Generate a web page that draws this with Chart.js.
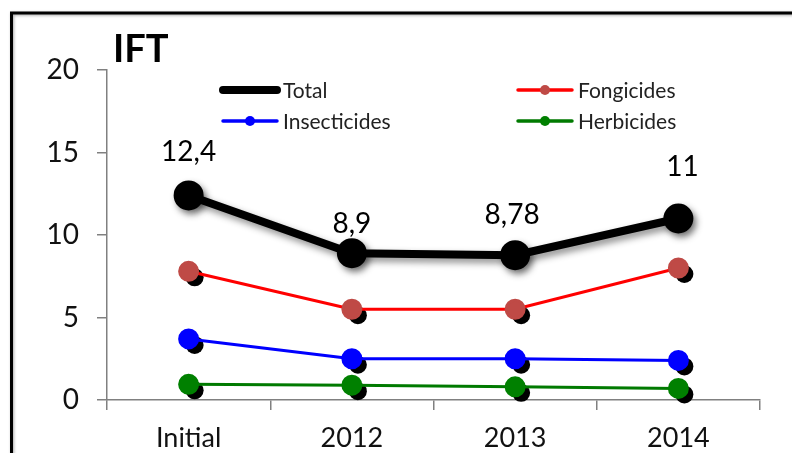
<!DOCTYPE html>
<html>
<head>
<meta charset="utf-8">
<script src="https://cdn.jsdelivr.net/npm/chart.js@4"></script>
<style>
  html, body { margin: 0; padding: 0; background: #fff; }
  #wrap { width: 792px; height: 453px; position: relative; }
</style>
</head>
<body>
<div id="wrap"><canvas id="c" width="792" height="453"></canvas></div>
<script>
const categories = ['Initial', '2012', '2013', '2014'];
const total = [12.4, 8.9, 8.78, 11];
const fongicides = [7.8, 5.5, 5.5, 8.0];
const insecticides = [3.7, 2.5, 2.5, 2.4];
const herbicides = [0.95, 0.9, 0.8, 0.7];
const totalLabels = ['12,4', '8,9', '8,78', '11'];
const yMin = 0, yMax = 20, yStep = 5;

const FONT = 'Lato, "Open Sans", sans-serif';

const framePlugin = {
  id: 'frame',
  beforeDraw(chart) {
    const ctx = chart.ctx;
    ctx.save();
    ctx.fillStyle = '#fff';
    ctx.fillRect(0, 0, chart.width, chart.height);
    ctx.shadowColor = 'rgba(0,0,0,0.35)';
    ctx.shadowBlur = 3;
    ctx.shadowOffsetX = 1;
    ctx.shadowOffsetY = 1;
    ctx.strokeStyle = '#000';
    ctx.lineWidth = 3;
    ctx.beginPath();
    ctx.moveTo(11.5, chart.height + 10);
    ctx.lineTo(11.5, 13);
    ctx.lineTo(chart.width + 10, 13);
    ctx.stroke();
    ctx.restore();
    // title
    ctx.save();
    ctx.fillStyle = '#000';
    ctx.font = 'bold 38px ' + FONT;
    ctx.textBaseline = 'alphabetic';
    ctx.textAlign = 'left';
    ctx.fillText('IFT', 113, 62);
    ctx.restore();
  }
};

const shadowPlugin = {
  id: 'dotShadow',
  beforeDatasetDraw(chart, args) {
    const ds = chart.data.datasets[args.index];
    const ctx = chart.ctx;
    if (ds.hardShadow) {
      const meta = args.meta;
      ctx.save();
      ctx.fillStyle = '#000';
      meta.data.forEach(pt => {
        ctx.beginPath();
        ctx.arc(pt.x + 6, pt.y + 6, ds.pointRadius, 0, Math.PI * 2);
        ctx.fill();
      });
      ctx.restore();
    }
    if (ds.softShadow) {
      ctx.save();
      ctx.shadowColor = 'rgba(0,0,0,0.45)';
      ctx.shadowBlur = 7;
      ctx.shadowOffsetX = 3;
      ctx.shadowOffsetY = 4;
    }
  },
  afterDatasetDraw(chart, args) {
    const ds = chart.data.datasets[args.index];
    if (ds.softShadow) chart.ctx.restore();
  }
};

const labelPlugin = {
  id: 'totalLabels',
  afterDatasetsDraw(chart, args, opts) {
    const meta = chart.getDatasetMeta(0);
    const ctx = chart.ctx;
    ctx.save();
    ctx.fillStyle = '#000';
    ctx.font = '28px ' + FONT;
    ctx.textAlign = 'center';
    ctx.textBaseline = 'middle';
    meta.data.forEach((pt, i) => {
      ctx.fillText(totalLabels[i], pt.x + opts.dx[i], pt.y - opts.dy[i]);
    });
    ctx.restore();
  }
};

const legendPlugin = {
  id: 'customLegend',
  afterDraw(chart, args, opts) {
    const ctx = chart.ctx;
    chart.data.datasets.forEach((ds, i) => {
      const pos = opts.positions[i];
      ctx.save();
      ctx.strokeStyle = ds.borderColor;
      ctx.lineWidth = ds.legendLineWidth;
      ctx.lineCap = 'round';
      ctx.beginPath();
      ctx.moveTo(pos[0], pos[1]);
      ctx.lineTo(pos[0] + 54, pos[1]);
      ctx.stroke();
      ctx.fillStyle = ds.pointBackgroundColor;
      ctx.beginPath();
      ctx.arc(pos[0] + 27, pos[1], ds.legendDot, 0, Math.PI * 2);
      ctx.fill();
      ctx.fillStyle = '#222';
      ctx.font = '21px ' + FONT;
      ctx.textAlign = 'left';
      ctx.textBaseline = 'middle';
      ctx.fillText(ds.label, pos[0] + 60, pos[1] + 1);
      ctx.restore();
    });
  }
};

new Chart(document.getElementById('c'), {
  type: 'line',
  data: {
    labels: categories,
    datasets: [
      { label: 'Total', data: total, borderColor: '#000', backgroundColor: '#000',
        pointBackgroundColor: '#000', pointBorderColor: '#000', borderWidth: 8,
        pointRadius: 11, softShadow: true, legendLineWidth: 8, legendDot: 4 },
      { label: 'Fongicides', data: fongicides, borderColor: '#ff0000', backgroundColor: '#c0504d',
        pointBackgroundColor: '#bf4a46', pointBorderColor: '#bf4a46', borderWidth: 3,
        pointRadius: 9, hardShadow: true, legendLineWidth: 3.5, legendDot: 5 },
      { label: 'Insecticides', data: insecticides, borderColor: '#0000ff', backgroundColor: '#0000ff',
        pointBackgroundColor: '#0000ff', pointBorderColor: '#0000ff', borderWidth: 3,
        pointRadius: 9, hardShadow: true, legendLineWidth: 3.5, legendDot: 5 },
      { label: 'Herbicides', data: herbicides, borderColor: '#007a00', backgroundColor: '#007a00',
        pointBackgroundColor: '#008000', pointBorderColor: '#008000', borderWidth: 3,
        pointRadius: 9, hardShadow: true, legendLineWidth: 3.5, legendDot: 5 }
    ]
  },
  options: {
    responsive: false,
    animation: false,
    layout: { padding: { top: 70, right: 32, left: 0, bottom: 0 } },
    elements: { line: { tension: 0 }, point: { borderWidth: 0, hoverRadius: 9 } },
    plugins: {
      legend: { display: false },
      tooltip: { enabled: false },
      title: { display: false },
      totalLabels: { dx: [0, 0, -3, 4], dy: [43, 29, 40, 52] },
      customLegend: { positions: [[223, 90], [518, 90], [223, 121], [518, 121]] }
    },
    scales: {
      x: {
        type: 'category',
        offset: true,
        grid: { offset: true, drawOnChartArea: false, drawTicks: true, tickLength: 10, color: '#808080', lineWidth: 1.5 },
        border: { display: true, color: '#808080', width: 1.5 },
        ticks: { color: '#111', font: { family: FONT, size: 27 }, padding: 12, maxRotation: 0 },
        afterFit(scale) { scale.height = 53; }
      },
      y: {
        min: yMin, max: yMax,
        grid: { drawOnChartArea: false, drawTicks: true, tickLength: 10, color: '#808080', lineWidth: 1.5 },
        border: { display: true, color: '#808080', width: 1.5 },
        ticks: { stepSize: yStep, color: '#111', font: { family: FONT, size: 28 }, padding: 18 },
        afterFit(scale) { scale.width = 107; }
      }
    }
  },
  plugins: [framePlugin, shadowPlugin, labelPlugin, legendPlugin]
});
</script>
</body>
</html>
